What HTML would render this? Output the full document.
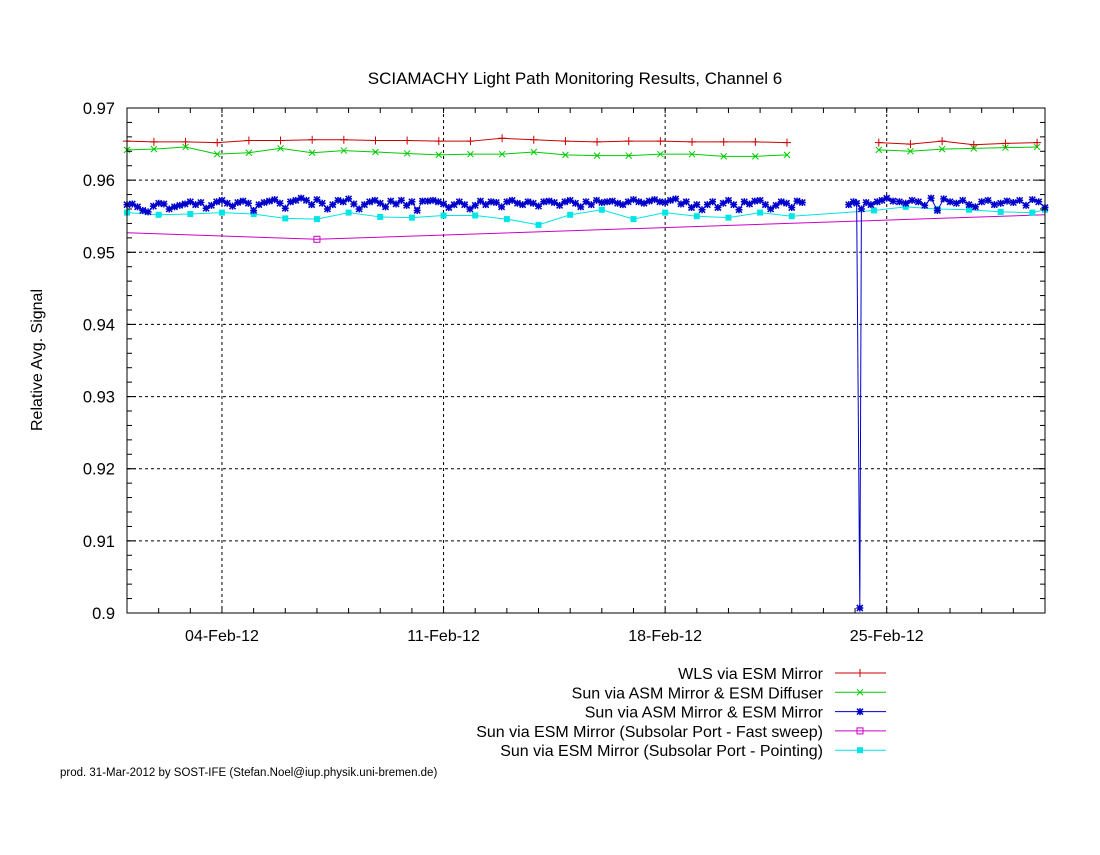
<!DOCTYPE html>
<html><head><meta charset="utf-8"><style>
body{margin:0;background:#fff}
svg text{font-family:"Liberation Sans",sans-serif;fill:#000}
</style></head><body>
<svg id="c" width="1100" height="850" viewBox="0 0 1100 850">
<rect width="1100" height="850" fill="#fff"/>
<text x="575" y="84" font-size="17" text-anchor="middle">SCIAMACHY Light Path Monitoring Results, Channel 6</text>
<text transform="translate(42,360) rotate(-90)" font-size="16" text-anchor="middle">Relative Avg. Signal</text>
<text x="60" y="776" font-size="11.5">prod. 31-Mar-2012 by SOST-IFE (Stefan.Noel@iup.physik.uni-bremen.de)</text>
<g id="grid"></g><g id="series"></g><g id="axes"></g><g id="legend"></g>
</svg>
<script>
const yTicks=[0.97,0.96,0.95,0.94,0.93,0.92,0.91,0.90];
const yTickLabels=["0.97","0.96","0.95","0.94","0.93","0.92","0.91","0.9"];
const xTickDays=[3,10,17,24];
const xTickLabels=["04-Feb-12","11-Feb-12","18-Feb-12","25-Feb-12"];
const dailyDays=[0,0.85,1.85,2.85,3.85,4.85,5.85,6.85,7.85,8.85,9.85,10.85,11.85,12.85,13.85,14.85,15.85,16.85,17.85,18.85,19.85,20.85];
const dailyDays2=[23.75,24.75,25.75,26.75,27.75,28.75];
const wlsVals=[0.9654,0.9653,0.9653,0.9652,0.9655,0.9655,0.9656,0.9656,0.9655,0.9655,0.9654,0.9654,0.9658,0.9656,0.9654,0.9653,0.9654,0.9654,0.9653,0.9653,0.9653,0.9652];
const wlsVals2=[0.9652,0.9650,0.9654,0.9649,0.9651,0.9652];
const asmDiffVals=[0.9642,0.9643,0.9646,0.9636,0.9638,0.9644,0.9638,0.9641,0.9639,0.9637,0.9635,0.9636,0.9636,0.9639,0.9635,0.9634,0.9634,0.9636,0.9636,0.9633,0.9633,0.9635];
const asmDiffVals2=[0.9642,0.9640,0.9643,0.9644,0.9645,0.9646];
const cyanDays=[0,1,2,3,4,5,6,7,8,9,10,11,12,13,14,15,16,17,18,19,20,21,23.6,24.6,25.6,26.6,27.6,28.6,29];
const cyanVals=[0.9555,0.9552,0.9553,0.9555,0.9553,0.9547,0.9546,0.9555,0.9549,0.9548,0.9551,0.9551,0.9546,0.9538,0.9552,0.9559,0.9546,0.9555,0.9550,0.9548,0.9555,0.9550,0.9558,0.9563,0.9560,0.9559,0.9556,0.9555,0.9559];
const magDays=[0,6,29];
const magVals=[0.9527,0.9518,0.9552];
const magMarkerDays=[6];
const blueDays1=[];for(let i=0;i<=128;i++)blueDays1.push(i/6);
const blueVals1=[0.9566,0.9567,0.9563,0.9558,0.9556,0.9564,0.9568,0.9567,0.9560,0.9563,0.9565,0.9567,0.9570,0.9566,0.9569,0.9561,0.9565,0.9570,0.9572,0.9568,0.9564,0.9569,0.9571,0.9568,0.9558,0.9566,0.9569,0.9571,0.9573,0.9568,0.9561,0.9570,0.9572,0.9575,0.9572,0.9566,0.9573,0.9568,0.9560,0.9566,0.9572,0.9570,0.9574,0.9567,0.9560,0.9566,0.9570,0.9572,0.9568,0.9563,0.9571,0.9567,0.9572,0.9565,0.9570,0.9558,0.9571,0.9571,0.9572,0.9570,0.9567,0.9562,0.9566,0.9570,0.9566,0.9560,0.9565,0.9571,0.9566,0.9570,0.9569,0.9563,0.9570,0.9572,0.9568,0.9566,0.9570,0.9568,0.9564,0.9570,0.9571,0.9569,0.9565,0.9570,0.9572,0.9568,0.9563,0.9570,0.9566,0.9572,0.9569,0.9570,0.9571,0.9568,0.9566,0.9570,0.9573,0.9570,0.9568,0.9571,0.9573,0.9570,0.9569,0.9572,0.9574,0.9567,0.9570,0.9562,0.9566,0.9559,0.9566,0.9570,0.9562,0.9568,0.9572,0.9566,0.9559,0.9570,0.9567,0.9571,0.9572,0.9566,0.9560,0.9565,0.9570,0.9568,0.9562,0.9571,0.9569];
const blueDays2=[22.8,22.95,23.05,23.15,23.2,23.35,23.5,23.7,23.85,24,24.2,24.4,24.6,24.8,25,25.2,25.4,25.6,25.8,26,26.2,26.4,26.6,26.8,27,27.2,27.4,27.6,27.8,28,28.2,28.4,28.6,28.8,29];
const blueVals2=[0.9566,0.9570,0.9568,0.9007,0.9560,0.9569,0.9566,0.9570,0.9572,0.9575,0.9571,0.9570,0.9568,0.9572,0.9570,0.9565,0.9575,0.9558,0.9574,0.9570,0.9568,0.9572,0.9566,0.9563,0.9570,0.9572,0.9566,0.9568,0.9571,0.9569,0.9572,0.9565,0.9573,0.9570,0.9562];
const legendLabels=["WLS via ESM Mirror","Sun via ASM Mirror & ESM Diffuser","Sun via ASM Mirror & ESM Mirror","Sun via ESM Mirror (Subsolar Port - Fast sweep)","Sun via ESM Mirror (Subsolar Port - Pointing)"];
const legendColors=["#cc0000","#00cc00","#0000cc","#cc00cc","#00e5e5"];
const legendMarks=["plus","x","star","sq","fsq"];

const NS="http://www.w3.org/2000/svg";
const L=127,R=1045,T=108,B=613,D0=0,D1=29,V0=0.90,V1=0.97;
const sx=d=>L+(d-D0)/(D1-D0)*(R-L);
const sy=v=>B-(v-V0)/(V1-V0)*(B-T);
function mk(tag,attrs,parent){const e=document.createElementNS(NS,tag);for(const k in attrs)e.setAttribute(k,attrs[k]);parent.appendChild(e);return e;}
const grid=document.getElementById('grid'),axes=document.getElementById('axes'),ser=document.getElementById('series'),leg=document.getElementById('legend');
yTicks.forEach((v,i)=>{
 if(i>0&&i<yTicks.length-1){const g=mk('line',{x1:L,x2:R,y1:sy(v),y2:sy(v),stroke:'#000','stroke-dasharray':'3,3','stroke-width':1},grid);
 
 }
 const t=mk('text',{x:L-12,y:sy(v)+6,'font-size':16.5,'text-anchor':'end'},axes);t.textContent=yTickLabels[i];
 
 
 mk('line',{x1:L,x2:L+9,y1:sy(v),y2:sy(v),stroke:'#000'},axes);
 mk('line',{x1:R,x2:R-9,y1:sy(v),y2:sy(v),stroke:'#000'},axes);
});
for(let v=V0;v<V1;v+=0.002){mk('line',{x1:L,x2:L+5,y1:sy(v),y2:sy(v),stroke:'#000'},axes);mk('line',{x1:R,x2:R-5,y1:sy(v),y2:sy(v),stroke:'#000'},axes);}
for(let d=1;d<D1;d++){mk('line',{x1:sx(d),x2:sx(d),y1:B,y2:B-5,stroke:'#000'},axes);mk('line',{x1:sx(d),x2:sx(d),y1:T,y2:T+5,stroke:'#000'},axes);}
xTickDays.forEach((d,i)=>{
 const g=mk('line',{x1:sx(d),x2:sx(d),y1:T,y2:B,stroke:'#000','stroke-dasharray':'3,3'},grid);
 
 
 const t=mk('text',{x:sx(d),y:B+28,'font-size':16,'text-anchor':'middle'},axes);t.textContent=xTickLabels[i];
 
 
});
const fr=mk('rect',{x:L,y:T,width:R-L,height:B-T,fill:'none',stroke:'#000'},axes);


function marker(kind,x,y,c,p){
 if(kind==='plus'){mk('path',{d:`M${x-4} ${y}h8M${x} ${y-4}v8`,stroke:c,fill:'none'},p);}
 else if(kind==='x'){mk('path',{d:`M${x-3} ${y-3}l6 6M${x-3} ${y+3}l6 -6`,stroke:c,fill:'none'},p);}
 else if(kind==='star'){mk('path',{d:`M${x-3.5} ${y}h7M${x} ${y-3.5}v7M${x-3} ${y-3}l6 6M${x-3} ${y+3}l6 -6`,stroke:c,fill:'none','stroke-width':1.5},p);}
 else if(kind==='sq'){mk('rect',{x:x-3,y:y-3,width:6,height:6,stroke:c,fill:'none'},p);}
 else {mk('rect',{x:x-3,y:y-3,width:6,height:6,fill:c},p);}
}
function series(name,days,vals,c,kind,markDays){
 const g=mk('g',{},ser);
 
 
 mk('polyline',{points:days.map((d,i)=>sx(d)+','+sy(vals[i])).join(' '),fill:'none',stroke:c,'stroke-width':1},g);
 days.forEach((d,i)=>{if(!markDays||markDays.includes(d))marker(kind,sx(d),sy(vals[i]),c,g);});
}
series('magenta-series',magDays,magVals,legendColors[3],'sq',magMarkerDays);
series('cyan-series',cyanDays,cyanVals,legendColors[4],'fsq');
series('blue-series-a',blueDays1,blueVals1,legendColors[2],'star');
series('blue-series-b',blueDays2,blueVals2,legendColors[2],'star');
series('green-series-a',dailyDays,asmDiffVals,legendColors[1],'x');
series('green-series-b',dailyDays2,asmDiffVals2,legendColors[1],'x');
series('red-series-a',dailyDays,wlsVals,legendColors[0],'plus');
series('red-series-b',dailyDays2,wlsVals2,legendColors[0],'plus');
legendLabels.forEach((s,i)=>{
 const y=673+i*19.3;
 const g=mk('g',{},leg);
 
 
 const t=mk('text',{x:823,y:y+6,'font-size':16,'text-anchor':'end'},g);t.textContent=s;
 mk('line',{x1:835,x2:886,y1:y,y2:y,stroke:legendColors[i]},g);
 marker(legendMarks[i],860,y,legendColors[i],g);
});
</script>
</body></html>
